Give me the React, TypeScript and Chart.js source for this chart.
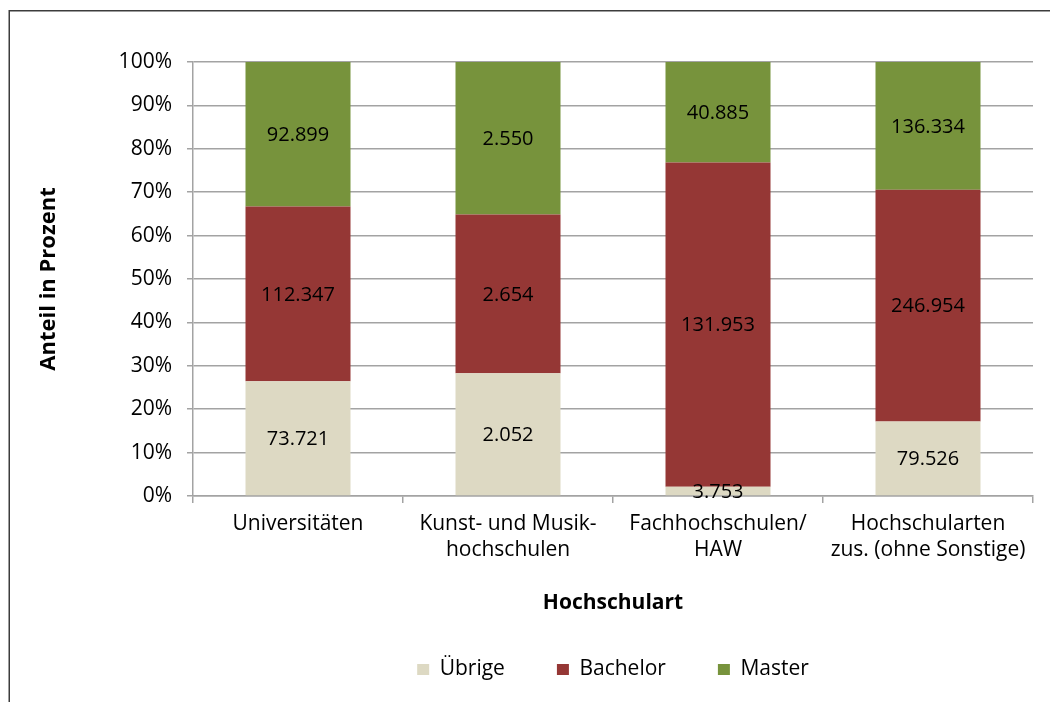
import React, { useEffect, useRef } from "react";
import { Chart, registerables } from "chart.js";

Chart.register(...registerables);

const categories: (string | string[])[] = [
  "Universitäten",
  ["Kunst- und Musik-", "hochschulen"],
  ["Fachhochschulen/", "HAW"],
  ["Hochschularten", "zus. (ohne Sonstige)"],
];
const uebrige = [73721, 2052, 3753, 79526];
const bachelor = [112347, 2654, 131953, 246954];
const master = [92899, 2550, 40885, 136334];
const yTicks = [0, 10, 20, 30, 40, 50, 60, 70, 80, 90, 100];

const totals = categories.map((_, i) => uebrige[i] + bachelor[i] + master[i]);
const pct = (arr: number[]) => arr.map((v, i) => (v / totals[i]) * 100);

const fmt = (n: number) => String(n).replace(/\B(?=(\d{3})+(?!\d))/g, ".");

const FONT = "'Open Sans', 'Noto Sans', sans-serif";
const GRID = "#a3a3a3";

const framePlugin = {
  id: "frame",
  beforeDraw(chart: any) {
    const ctx = chart.ctx;
    ctx.save();
    ctx.fillStyle = "#ffffff";
    ctx.fillRect(0, 0, chart.width, chart.height);
    ctx.strokeStyle = "#3c3c3c";
    ctx.lineWidth = 1.5;
    ctx.beginPath();
    ctx.moveTo(9.25, chart.height);
    ctx.lineTo(9.25, 10.75);
    ctx.lineTo(chart.width, 10.75);
    ctx.stroke();
    ctx.restore();
  },
};

const labelPlugin = {
  id: "segLabels",
  afterDatasetsDraw(chart: any) {
    const ctx = chart.ctx;
    ctx.save();
    ctx.font = `20px ${FONT}`;
    ctx.fillStyle = "#000000";
    ctx.textAlign = "center";
    ctx.textBaseline = "middle";
    chart.data.datasets.forEach((ds: any, di: number) => {
      const meta = chart.getDatasetMeta(di);
      meta.data.forEach((el: any, i: number) => {
        const raw = ds.raw[i];
        const cy = (el.y + el.base) / 2;
        ctx.fillText(fmt(raw), el.x, cy + 1);
      });
    });
    ctx.restore();
  },
};

export default function App() {
  const ref = useRef<HTMLCanvasElement | null>(null);
  useEffect(() => {
    if (!ref.current) return;
    const chart = new Chart(ref.current, {
      type: "bar",
      data: {
        labels: categories as any,
        datasets: [
          { label: "Übrige", data: pct(uebrige), raw: uebrige, backgroundColor: "#DDD9C3" } as any,
          { label: "Bachelor", data: pct(bachelor), raw: bachelor, backgroundColor: "#953735" } as any,
          { label: "Master", data: pct(master), raw: master, backgroundColor: "#77933C" } as any,
        ],
      },
      options: {
        responsive: false,
        animation: false,
        layout: { padding: { left: 25, top: 62, right: 17, bottom: 12 } },
        datasets: { bar: { barPercentage: 0.5, categoryPercentage: 1 } },
        plugins: {
          legend: {
            position: "bottom",
            fullSize: false,
            labels: {
              boxWidth: 12,
              boxHeight: 11,
              padding: 52,
              color: "#000",
              font: { family: FONT, size: 21 },
            },
          },
          tooltip: { enabled: false },
        },
        scales: {
          x: {
            stacked: true,
            grid: { offset: true, drawOnChartArea: false, tickLength: 7, color: GRID, lineWidth: 1.5 },
            border: { color: GRID, width: 1.5 },
            ticks: { color: "#000", padding: 8, maxRotation: 0, autoSkip: false, font: { family: FONT, size: 21, lineHeight: 1.24 } },
            title: { display: true, text: "Hochschulart", color: "#000", padding: { top: 0, bottom: -9 }, font: { family: FONT, size: 21, weight: "bold" } },
            afterFit(scale: any) { scale.height = 111; },
          },
          y: {
            stacked: true,
            min: 0,
            max: 100,
            afterBuildTicks(scale: any) { scale.ticks = yTicks.map((v) => ({ value: v })); },
            grid: { color: GRID, lineWidth: 1.5, tickLength: 6 },
            border: { color: GRID, width: 1.5 },
            ticks: { color: "#000", padding: 15, font: { family: FONT, size: 21 }, callback: (v: any) => v + "%" },
            title: { display: true, text: "Anteil in Prozent", color: "#000", padding: { top: 11, bottom: 0 }, font: { family: FONT, size: 22, weight: "bold" } },
            afterFit(scale: any) { scale.width = 168; },
          },
        },
      } as any,
      plugins: [framePlugin, labelPlugin],
    });
    return () => chart.destroy();
  }, []);
  return (
    <div style={{ position: "absolute", left: 0, top: 0, width: 1050, height: 702 }}>
      <canvas ref={ref} width={1050} height={702} />
    </div>
  );
}
